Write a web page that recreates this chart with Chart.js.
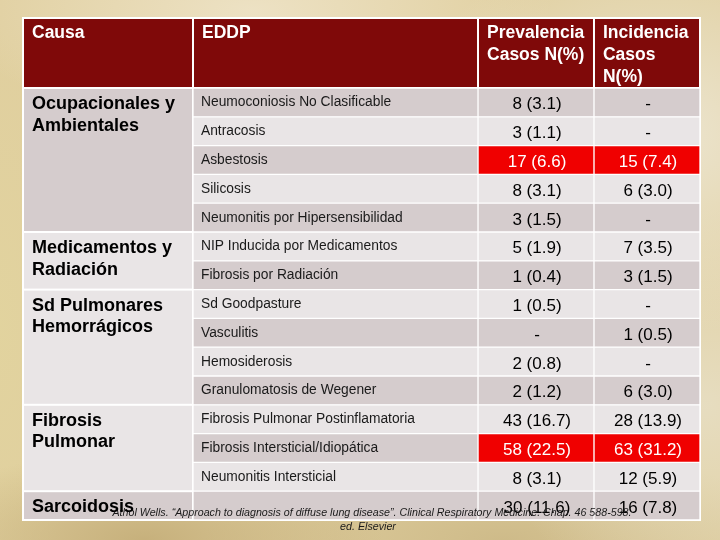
<!DOCTYPE html>
<html><head><meta charset="utf-8">
<script src="https://cdn.jsdelivr.net/npm/chart.js@4/dist/chart.umd.min.js"></script>
<style>
html,body{margin:0;padding:0;width:720px;height:540px;overflow:hidden;}
body{
  background-color:#e0cf9f;
  background-image:
    radial-gradient(ellipse 260px 200px at 92% 25%, rgba(238,232,215,0.85), rgba(238,232,215,0) 100%),
    radial-gradient(ellipse 300px 120px at 35% 2%, rgba(240,230,205,0.8), rgba(240,230,205,0) 100%),
    radial-gradient(ellipse 220px 200px at 98% 75%, rgba(232,224,200,0.8), rgba(232,224,200,0) 100%),
    radial-gradient(ellipse 240px 90px at 20% 100%, rgba(190,166,112,0.75), rgba(190,166,112,0) 100%),
    radial-gradient(ellipse 300px 90px at 70% 100%, rgba(200,180,130,0.75), rgba(200,180,130,0) 100%),
    radial-gradient(ellipse 80px 300px at 0% 60%, rgba(226,212,158,0.8), rgba(226,212,158,0) 100%);
}
canvas{display:block}
</style></head><body><canvas id="c" width="720" height="540"></canvas>
<script>
// ---- data ----
const headers = ['Causa', 'EDDP', 'Prevalencia\nCasos N(%)', 'Incidencia\nCasos\nN(%)'];
const causas = ['Ocupacionales y\nAmbientales', 'Medicamentos y\nRadiación', 'Sd Pulmonares\nHemorrágicos', 'Fibrosis\nPulmonar', 'Sarcoidosis'];
const causaRows = [5, 2, 4, 3, 1];
const eddp = ['Neumoconiosis No Clasificable', 'Antracosis', 'Asbestosis', 'Silicosis',
  'Neumonitis por Hipersensibilidad', 'NIP Inducida por Medicamentos', 'Fibrosis por Radiación',
  'Sd Goodpasture', 'Vasculitis', 'Hemosiderosis', 'Granulomatosis de Wegener',
  'Fibrosis Pulmonar Postinflamatoria', 'Fibrosis Intersticial/Idiopática', 'Neumonitis Intersticial', ''];
const prevN   = [8, 3, 17, 8, 3, 5, 1, 1, null, 2, 2, 43, 58, 8, 30];
const prevPct = [3.1, 1.1, 6.6, 3.1, 1.5, 1.9, 0.4, 0.5, null, 0.8, 1.2, 16.7, 22.5, 3.1, 11.6];
const incN    = [null, null, 15, 6, null, 7, 3, null, 1, null, 6, 28, 63, 12, 16];
const incPct  = [null, null, 7.4, 3.0, null, 3.5, 1.5, null, 0.5, null, 3.0, 13.9, 31.2, 5.9, 7.8];
const highlighted = [2, 12];
const footnote = ['Athol Wells. \u201CApproach to diagnosis of diffuse lung disease\u201D. Clinical Respiratory Medicine. Chap. 46 588-598.', 'ed. Elsevier'];

// ---- layout / style ----
const COLS = [0, 25.11, 67.21, 84.34, 100];
const DARK = '#d5cccd', LIGHT = '#e9e5e6', RED = '#f00000', HEAD = '#7f0909';
const FONT = "'Liberation Sans', Arial, sans-serif";

function fmt(n, p) { return n == null ? '-' : n + ' (' + p.toFixed(1) + ')'; }
const prevText = prevN.map((n, i) => fmt(n, prevPct[i]));
const incText = incN.map((n, i) => fmt(n, incPct[i]));
const rowColor = i => (i % 2 ? LIGHT : DARK);

function colDataset(c, colorFn) {
  return {
    data: eddp.map(() => [COLS[c], COLS[c + 1]]),
    backgroundColor: eddp.map((_, i) => colorFn(i)),
    borderColor: '#ffffff', borderWidth: 1, borderSkipped: false,
    grouped: false, barPercentage: 1, categoryPercentage: 1
  };
}

const tablePlugin = {
  id: 'table',
  beforeDatasetsDraw(chart) {
    const { ctx, chartArea: a, scales: { x, y } } = chart;
    const band = y.getPixelForValue(1) - y.getPixelForValue(0);
    const headTop = a.top - 70;
    ctx.save();
    ctx.fillStyle = '#ffffff';
    ctx.fillRect(a.left - 1, headTop - 1, a.right - a.left + 2, a.bottom - headTop + 2);
    for (let c = 0; c < 4; c++) {
      const x0 = x.getPixelForValue(COLS[c]), x1 = x.getPixelForValue(COLS[c + 1]);
      ctx.fillStyle = HEAD;
      ctx.fillRect(x0 + 1, headTop + 1, x1 - x0 - 2, a.top - headTop - 2);
    }
    let r = 0;
    const x0 = x.getPixelForValue(COLS[0]), x1 = x.getPixelForValue(COLS[1]);
    causaRows.forEach((n) => {
      const t = y.getPixelForValue(r) - band / 2, b = y.getPixelForValue(r + n - 1) + band / 2;
      ctx.fillStyle = rowColor(r);
      ctx.fillRect(x0 + 1, t + 1, x1 - x0 - 2, b - t - 2);
      r += n;
    });
    ctx.restore();
  },
  afterDatasetsDraw(chart) {
    const { ctx, chartArea: a, scales: { x, y } } = chart;
    const band = y.getPixelForValue(1) - y.getPixelForValue(0);
    const headTop = a.top - 70;
    ctx.save();
    ctx.textAlign = 'left';
    ctx.textBaseline = 'alphabetic';
    // header text
    ctx.fillStyle = '#ffffff';
    ctx.font = 'bold 17.5px ' + FONT;
    headers.forEach((h, c) => {
      const x0 = x.getPixelForValue(COLS[c]);
      h.split('\n').forEach((line, k) => ctx.fillText(line, x0 + 9, headTop + 20 + k * 21.8));
    });
    // EDDP text
    ctx.fillStyle = '#1a1a1a';
    ctx.font = '13.8px ' + FONT;
    eddp.forEach((t, i) => {
      ctx.fillText(t, x.getPixelForValue(COLS[1]) + 8, y.getPixelForValue(i) + 4);
    });
    // values
    ctx.textAlign = 'center';
    ctx.font = '17px ' + FONT;
    [prevText, incText].forEach((arr, k) => {
      const cx = (x.getPixelForValue(COLS[2 + k]) + x.getPixelForValue(COLS[3 + k])) / 2;
      arr.forEach((t, i) => {
        ctx.fillStyle = highlighted.includes(i) ? '#ffffff' : '#000000';
        ctx.fillText(t, cx + 1, y.getPixelForValue(i) + 7);
      });
    });
    // footnote
    ctx.fillStyle = '#1a1a1a';
    ctx.font = 'italic 11.5px ' + FONT;
    const w0 = ctx.measureText(footnote[0]).width;
    const sx = 519 / w0;
    ctx.save();
    ctx.translate(372, 516);
    ctx.scale(sx, 1);
    ctx.fillText(footnote[0], 0, 0);
    ctx.restore();
    ctx.save();
    ctx.translate(368, 530);
    ctx.scale(sx, 1);
    ctx.fillText(footnote[1], 0, 0);
    ctx.restore();
    // Causa text
    ctx.textAlign = 'left';
    ctx.fillStyle = '#000000';
    ctx.font = 'bold 18px ' + FONT;
    let r = 0;
    causas.forEach((cz, g) => {
      const top = y.getPixelForValue(r) - band / 2;
      cz.split('\n').forEach((line, k) => ctx.fillText(line, x.getPixelForValue(COLS[0]) + 9, top + 21 + k * 21.5));
      r += causaRows[g];
    });
    ctx.restore();
  }
};

new Chart(document.getElementById('c'), {
  type: 'bar',
  data: {
    labels: eddp.map((t, i) => t || 'Sarcoidosis'),
    datasets: [
      colDataset(1, rowColor),
      colDataset(2, i => highlighted.includes(i) ? RED : rowColor(i)),
      colDataset(3, i => highlighted.includes(i) ? RED : rowColor(i))
    ]
  },
  options: {
    indexAxis: 'y',
    responsive: false,
    animation: false,
    devicePixelRatio: 1,
    layout: { padding: { left: 23, right: 20, top: 88, bottom: 20 } },
    scales: {
      x: { type: 'linear', min: 0, max: 100, display: false },
      y: { type: 'category', offset: true, display: false }
    },
    plugins: { legend: { display: false }, tooltip: { enabled: false } }
  },
  plugins: [tablePlugin]
});
</script>
</body></html>
